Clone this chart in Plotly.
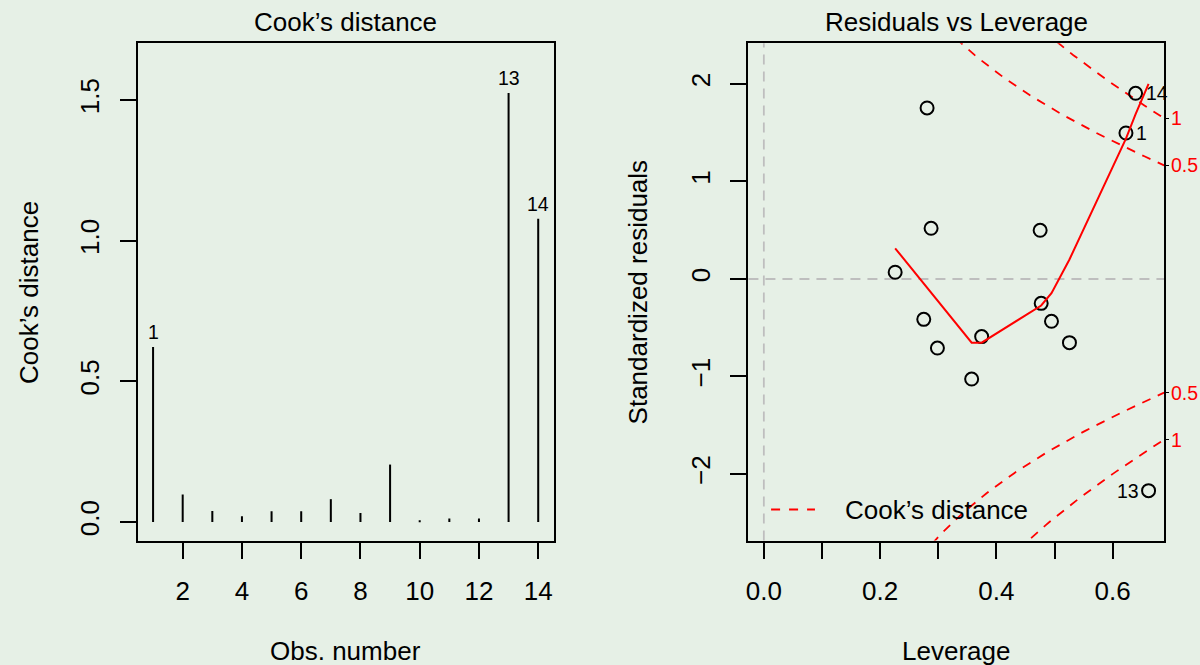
import numpy as np
import plotly.graph_objects as go

# ---------------- data ----------------
obs = list(range(1, 15))
cooks_d = [0.622, 0.098, 0.039, 0.020, 0.038, 0.038, 0.081, 0.032,
           0.204, 0.006, 0.012, 0.012, 1.525, 1.078]
leverage = [0.6229, 0.3575, 0.4753, 0.2877, 0.2986, 0.3747, 0.5257, 0.4948,
            0.2808, 0.2259, 0.2751, 0.4771, 0.6618, 0.6395]
std_resid = [1.497, -1.026, 0.499, 0.520, -0.708, -0.591, -0.653, -0.434,
             1.754, 0.069, -0.414, -0.250, -2.171, 1.904]
# smoother values at the sorted leverages
smooth_lev = [0.2259, 0.2751, 0.2808, 0.2877, 0.2986, 0.3575, 0.3747,
              0.4753, 0.4771, 0.4948, 0.5257, 0.6229, 0.6395, 0.6618]
smooth_val = [0.315, -0.047, -0.089, -0.140, -0.220, -0.653, -0.653,
              -0.281, -0.272, -0.145, 0.20, 1.44, 1.69, 2.00]
cook_levels = [0.5, 1.0]
n_params = 6
id_obs = [1, 13, 14]
x_ticks_left = [2, 4, 6, 8, 10, 12, 14]
y_ticks_left = [0.0, 0.5, 1.0, 1.5]
x_ticks_right = [0.0, 0.1, 0.2, 0.3, 0.4, 0.5, 0.6]
y_ticks_right = [-2, -1, 0, 1, 2]

# ---------------- layout constants ----------------
W, H = 1200, 665
BG = "#E6F0E6"
FONT = "Liberation Sans, Arial, Helvetica, sans-serif"
FS = 26
FS_ID = 19.5


def px_x(p):
    return p / W


def px_y(p):
    return 1 - p / H


xl_dom = [px_x(135), px_x(552)]
xr_dom = [px_x(747.3), px_x(1164)]
y_dom = [px_y(540.5), px_y(43.3)]

x_left_range = [0.48, 14.52]
y_left_range = [-0.066, 1.702]
x_right_range = [-0.0265, 0.6885]
y_right_range = [-2.682, 2.417]

fig = go.Figure()

# ---- left panel: Cook's distance needles ----
fig.add_trace(go.Bar(x=obs, y=cooks_d, width=0.068, marker=dict(color="black", line=dict(width=0)),
                     xaxis="x", yaxis="y", showlegend=False, hoverinfo="skip"))

# ---- right panel ----
# Cook's distance contours
hh = np.linspace(0.01, x_right_range[1], 101)
for lev in cook_levels:
    cl = np.sqrt(lev * n_params * (1 - hh) / hh)
    for sgn in (1, -1):
        fig.add_trace(go.Scatter(x=hh, y=sgn * cl, mode="lines",
                                 line=dict(color="red", width=1.8, dash="9px,8px"),
                                 xaxis="x2", yaxis="y2", showlegend=False, hoverinfo="skip"))

fig.add_trace(go.Scatter(x=leverage, y=std_resid, mode="markers",
                         marker=dict(symbol="circle-open", size=13, color="black",
                                     line=dict(width=2, color="black")),
                         xaxis="x2", yaxis="y2", showlegend=False))
fig.add_trace(go.Scatter(x=smooth_lev, y=smooth_val, mode="lines",
                         line=dict(color="red", width=2),
                         xaxis="x2", yaxis="y2", showlegend=False))

# right-side cook level positions
edge = x_right_range[1]
lab_vals, lab_txt = [], []
for lev in cook_levels:
    v = float(np.sqrt(lev * n_params * (1 - edge) / edge))
    lab_vals += [v, -v]
    lab_txt += [f"{lev:g}", f"{lev:g}"]

# invisible trace so that the right tick axis is rendered
fig.add_trace(go.Scatter(x=[edge] * len(lab_vals), y=lab_vals, mode="markers",
                         marker=dict(size=1, opacity=0), xaxis="x2", yaxis="y3",
                         showlegend=False, hoverinfo="skip"))

axis_common = dict(showgrid=False, zeroline=False, showline=True, mirror=True,
                   linecolor="black", linewidth=2, ticks="outside", ticklen=16,
                   tickwidth=2, tickcolor="black",
                   tickfont=dict(family=FONT, size=FS, color="black"))

fig.update_layout(
    width=W, height=H,
    paper_bgcolor=BG, plot_bgcolor=BG,
    margin=dict(l=0, r=0, t=0, b=0),
    showlegend=False,
    xaxis=dict(domain=xl_dom, range=x_left_range, anchor="y",
               tickvals=x_ticks_left, ticktext=[str(v) for v in x_ticks_left],
               ticklabelstandoff=10, **axis_common),
    yaxis=dict(domain=y_dom, range=y_left_range, anchor="x",
               tickvals=y_ticks_left, ticktext=[f"{v:.1f}" for v in y_ticks_left],
               tickangle=-90, ticklabelstandoff=10, **axis_common),
    xaxis2=dict(domain=xr_dom, range=x_right_range, anchor="y2",
                tickvals=x_ticks_right,
                ticktext=[f"{v:.1f}" if i % 2 == 0 else "" for i, v in enumerate(x_ticks_right)],
                ticklabelstandoff=10, **axis_common),
    yaxis2=dict(domain=y_dom, range=y_right_range, anchor="x2",
                tickvals=y_ticks_right,
                ticktext=[str(v).replace("-", "\u2212") for v in y_ticks_right],
                tickangle=-90, ticklabelstandoff=10, **axis_common),
    yaxis3=dict(overlaying="y2", anchor="x2", side="right", range=y_right_range,
                showgrid=False, zeroline=False, showline=False, automargin=False,
                tickvals=lab_vals, showticklabels=False, ticks="outside", ticklen=4,
                tickwidth=1, tickcolor="black"),
)

# reference lines at 0 (gray dashed)
fig.add_shape(type="line", xref="x2 domain", yref="y2", x0=0, x1=1, y0=0, y1=0,
              line=dict(color="#BEBEBE", width=1.8, dash="10px,7px"), layer="below")
fig.add_shape(type="line", xref="x2", yref="y2 domain", x0=0, x1=0, y0=0, y1=1,
              line=dict(color="#BEBEBE", width=1.8, dash="10px,7px"), layer="below")

# legend sample (Cook's distance)
fig.add_shape(type="line", xref="paper", yref="paper", x0=px_x(770), x1=px_x(814),
              y0=px_y(509.5), y1=px_y(509.5), line=dict(color="red", width=1.8, dash="9px,9px"))

ann = []
ann.append(dict(text="Cook’s distance", x=px_x(842), y=px_y(509.5), xref="paper", yref="paper",
                xanchor="left", yanchor="middle", showarrow=False,
                font=dict(family=FONT, size=FS, color="black")))
# panel titles
ann.append(dict(text="Cook’s distance", x=px_x(343.5), y=px_y(22), xref="paper", yref="paper",
                xanchor="center", yanchor="middle", showarrow=False,
                font=dict(family=FONT, size=FS, color="black")))
ann.append(dict(text="Residuals vs Leverage", x=px_x(955.7), y=px_y(22), xref="paper", yref="paper",
                xanchor="center", yanchor="middle", showarrow=False,
                font=dict(family=FONT, size=FS, color="black")))
# axis titles
ann.append(dict(text="Obs. number", x=px_x(343.5), y=px_y(651), xref="paper", yref="paper",
                xanchor="center", yanchor="middle", showarrow=False,
                font=dict(family=FONT, size=FS, color="black")))
ann.append(dict(text="Leverage", x=px_x(955.7), y=px_y(651), xref="paper", yref="paper",
                xanchor="center", yanchor="middle", showarrow=False,
                font=dict(family=FONT, size=FS, color="black")))
ann.append(dict(text="Cook’s distance", x=px_x(26), y=px_y(292), xref="paper", yref="paper",
                xanchor="center", yanchor="middle", showarrow=False, textangle=-90,
                font=dict(family=FONT, size=FS, color="black")))
ann.append(dict(text="Standardized residuals", x=px_x(637), y=px_y(292), xref="paper", yref="paper",
                xanchor="center", yanchor="middle", showarrow=False, textangle=-90,
                font=dict(family=FONT, size=FS, color="black")))

# red cook-level labels at the right edge of the right panel
for v, t in zip(lab_vals, lab_txt):
    ann.append(dict(text=t, x=px_x(1169), y=v, xref="paper", yref="y2",
                    xanchor="left", yanchor="middle", showarrow=False,
                    font=dict(family=FONT, size=FS_ID, color="red")))

# id labels, left panel
for o in id_obs:
    ann.append(dict(text=str(o), x=o, y=cooks_d[o - 1], xref="x", yref="y",
                    xanchor="center", yanchor="bottom", yshift=2, showarrow=False,
                    font=dict(family=FONT, size=FS_ID, color="black")))
# id labels, right panel
for o in id_obs:
    lv, rs = leverage[o - 1], std_resid[o - 1]
    left = rs < 0
    ann.append(dict(text=str(o), x=lv, y=rs, xref="x2", yref="y2",
                    xanchor="right" if left else "left", yanchor="middle",
                    xshift=-8 if left else 8, showarrow=False,
                    font=dict(family=FONT, size=FS_ID, color="black")))

fig.update_layout(annotations=ann)
fig.write_html("out.html")
